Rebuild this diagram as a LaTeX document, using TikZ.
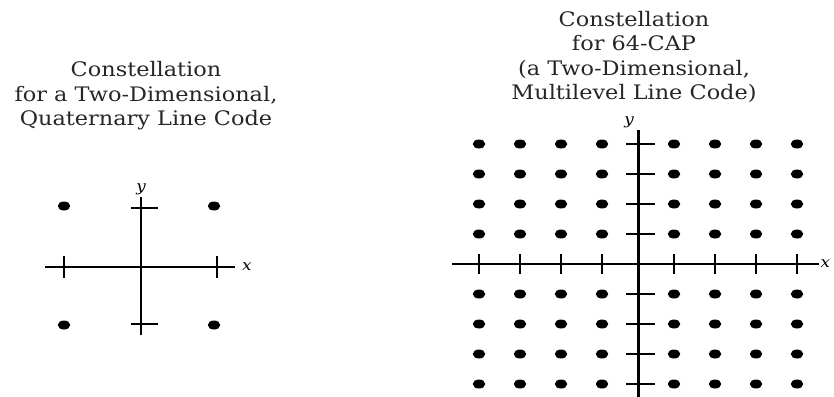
\documentclass[tikz,border=0pt]{standalone}
\usepackage{fontspec}
\setmainfont{DejaVu Serif}[FakeStretch=1.12]
\tikzset{
  dot/.style = {fill, ellipse, inner sep = 0, minimum width = 12.5, minimum height = 9},
  axis/.style = {line width = 2.2},
  tick/.style = {line width = 2},
  title/.style = {align = center, text = black!85, font = \fontsize{20}{24.5}\selectfont},
  lbl/.style = {inner sep = 1, font = \fontsize{15}{15}\selectfont\itshape}
}
\usetikzlibrary{shapes.geometric}

\begin{document}
\begin{tikzpicture}[x = 1pt, y = -1pt]
    \useasboundingbox (0, 0) rectangle (834, 396);

    % quaternary line code
    \node [title] (head1) at (146, 96) {Constellation\\for a Two-Dimensional,\\Quaternary Line Code};
    \begin{scope}[shift = {(141, 267)}]
        \coordinate (xl1) at (-96, 0);
        \coordinate (xr1) at (94, 0);
        \coordinate (yt1) at (0, -70);
        \coordinate (yb1) at (0, 68);
        \draw [axis] (xl1) -- (xr1) node [right, lbl, xshift = 5] {x};
        \draw [axis] (yb1) -- (yt1) node [above, lbl] {y};
        \foreach \x in {-77, 76}
            \draw [tick] (\x, -11) -- (\x, 11);
        \foreach \y in {-59, 57}
            \draw [tick] (-10, \y) -- (17, \y);
        \node [dot] (q1) at (-77, -61) {};
        \node [dot] (q2) at (73, -61) {};
        \node [dot] (q3) at (-77, 58) {};
        \node [dot] (q4) at (73, 58) {};
    \end{scope}

    % 64-CAP
    \node [title] (head2) at (634, 57) {Constellation\\for 64-CAP\\(a Two-Dimensional,\\Multilevel Line Code)};
    \begin{scope}[shift = {(638, 264)}]
        \coordinate (xl2) at (-186, 0);
        \coordinate (xr2) at (181, 0);
        \coordinate (yt2) at (0, -134);
        \coordinate (yb2) at (0, 134);
        \draw [axis] (xl2) -- (xr2) node [right, lbl, inner sep = 0.5] {x};
        \draw [axis, line width = 3] (yb2) -- (yt2) node [above, lbl, xshift = -9] {y};
        \foreach \x in {-159, -118, -77, -36, 36, 77, 118, 159}
            \draw [tick] (\x, -10) -- (\x, 10);
        \foreach \y in {-120, -90, -60, -30, 30, 60, 90, 120}
            \draw [tick] (-12, \y) -- (17, \y);
        \foreach \x [count = \i] in {-159, -118, -77, -36, 36, 77, 118, 159}
            \foreach \y [count = \j] in {-120, -90, -60, -30, 30, 60, 90, 120}
                \node [dot] (c\i\j) at (\x, \y) {};
    \end{scope}
\end{tikzpicture}
\end{document}
